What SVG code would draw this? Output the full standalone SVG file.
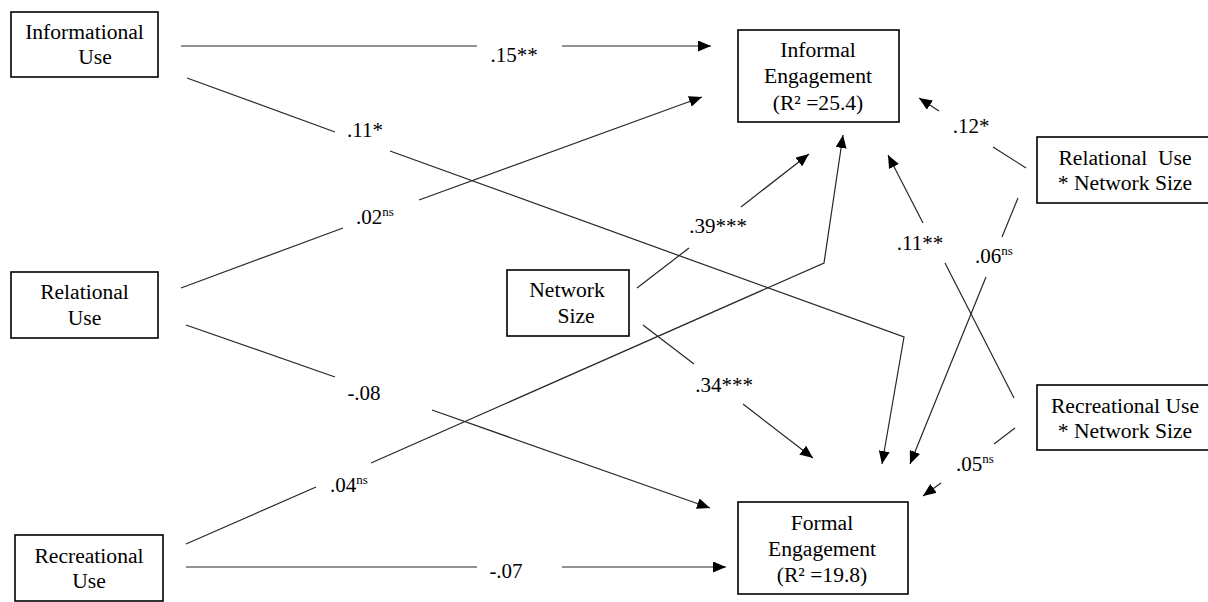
<svg xmlns="http://www.w3.org/2000/svg" width="1208" height="602" viewBox="0 0 1208 602">
<style>
.box{fill:#fff;stroke:#000;stroke-width:1.6}
.t{font-family:"Liberation Serif","Times New Roman",serif;font-size:21px;fill:#000}
.n{font-size:21.6px}
.m{text-anchor:middle}
.sup{font-size:13px}
.ln{fill:none;stroke:#262626;stroke-width:1.2}
.ar{marker-end:url(#ah)}
</style>
<defs>
<marker id="ah" markerUnits="userSpaceOnUse" markerWidth="13" markerHeight="11" refX="13" refY="5.5" orient="auto">
<path d="M0,0 L13,5.5 L0,11 z" fill="#000"/>
</marker>
</defs>
<rect width="1208" height="602" fill="#fff"/>

<g id="connectors">
<line class="ln" x1="181" y1="46" x2="477" y2="46"/>
<line class="ln ar" x1="562" y1="46" x2="711" y2="46"/>
<text class="t m" x="514" y="62">.15**</text>

<line class="ln" x1="187" y1="78" x2="335" y2="132"/>
<polyline class="ln ar" points="390,151 904,337 882,464"/>
<text class="t m" x="365" y="137">.11*</text>

<line class="ln" x1="181" y1="288" x2="343" y2="228"/>
<line class="ln ar" x1="419" y1="200" x2="702" y2="97"/>
<text class="t" x="356" y="224">.02<tspan class="sup" dy="-8">ns</tspan></text>

<line class="ln" x1="186" y1="325" x2="335" y2="377"/>
<line class="ln ar" x1="432" y1="410" x2="710" y2="508"/>
<text class="t m" x="364" y="400">-.08</text>

<line class="ln" x1="186" y1="544" x2="316" y2="487"/>
<polyline class="ln ar" points="371,463 824,263 843,135"/>
<text class="t" x="330" y="492">.04<tspan class="sup" dy="-8">ns</tspan></text>

<line class="ln" x1="186" y1="567" x2="477" y2="567"/>
<line class="ln ar" x1="562" y1="567" x2="726" y2="567"/>
<text class="t m" x="506" y="578">-.07</text>

<line class="ln" x1="637" y1="288" x2="689" y2="248"/>
<line class="ln ar" x1="741" y1="207" x2="809" y2="154"/>
<text class="t m" x="718" y="233">.39***</text>

<line class="ln" x1="643" y1="325" x2="694" y2="364"/>
<line class="ln ar" x1="743" y1="404" x2="813" y2="458"/>
<text class="t m" x="724" y="392">.34***</text>

<line class="ln" x1="1026" y1="168" x2="993" y2="147"/>
<line class="ln ar" x1="939" y1="111" x2="919" y2="98"/>
<text class="t m" x="971" y="133">.12*</text>

<line class="ln" x1="1018" y1="198" x2="1002" y2="237"/>
<line class="ln ar" x1="986" y1="277" x2="910" y2="464"/>
<text class="t" x="975" y="263">.06<tspan class="sup" dy="-8">ns</tspan></text>

<line class="ln" x1="1014" y1="398" x2="945" y2="263"/>
<line class="ln ar" x1="923" y1="223" x2="888" y2="155"/>
<text class="t m" x="920" y="250">.11**</text>

<line class="ln" x1="1015" y1="428" x2="994" y2="444"/>
<line class="ln ar" x1="941" y1="483" x2="923" y2="496"/>
<text class="t" x="956" y="471">.05<tspan class="sup" dy="-8">ns</tspan></text>
</g>

<g id="informational-use">
<rect class="box" x="11" y="12" width="147" height="65"/>
<text class="t n m" x="84.5" y="39">Informational</text>
<text class="t n m" x="95" y="64">Use</text>
</g>

<g id="relational-use">
<rect class="box" x="11" y="272" width="147" height="66"/>
<text class="t n m" x="84.5" y="299">Relational</text>
<text class="t n m" x="84.5" y="325">Use</text>
</g>

<g id="recreational-use">
<rect class="box" x="15" y="535" width="148" height="66"/>
<text class="t n m" x="89" y="563">Recreational</text>
<text class="t n m" x="89" y="588">Use</text>
</g>

<g id="network-size">
<rect class="box" x="507" y="270" width="122" height="66"/>
<text class="t n m" x="567" y="297">Network</text>
<text class="t n m" x="576" y="323">Size</text>
</g>

<g id="informal-engagement">
<rect class="box" x="738" y="30" width="161" height="92"/>
<text class="t n m" x="818" y="57">Informal</text>
<text class="t n m" x="818" y="83">Engagement</text>
<text class="t n m" x="818" y="110">(R² =25.4)</text>
</g>

<g id="formal-engagement">
<rect class="box" x="738" y="502" width="170" height="92"/>
<text class="t n m" x="822" y="530">Formal</text>
<text class="t n m" x="822" y="556">Engagement</text>
<text class="t n m" x="822" y="582">(R² =19.8)</text>
</g>

<g id="relational-use-x-network-size">
<rect class="box" x="1037" y="137" width="175" height="66"/>
<text class="t n m" x="1125" y="165" xml:space="preserve">Relational  Use</text>
<text class="t n m" x="1125" y="190">* Network Size</text>
</g>

<g id="recreational-use-x-network-size">
<rect class="box" x="1037" y="385" width="175" height="65"/>
<text class="t n m" x="1125" y="413">Recreational Use</text>
<text class="t n m" x="1125" y="438">* Network Size</text>
</g>
</svg>
